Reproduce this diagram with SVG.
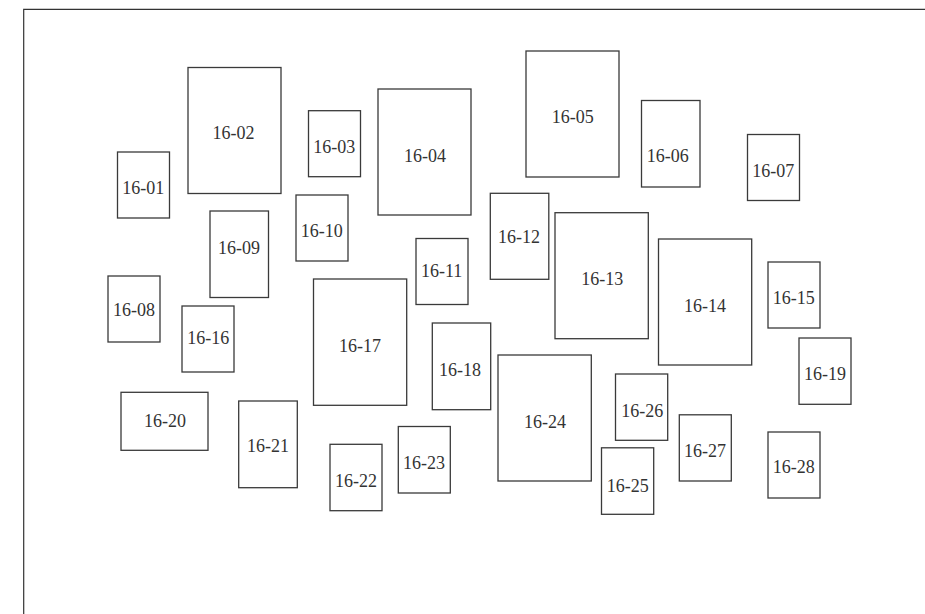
<svg xmlns="http://www.w3.org/2000/svg" width="925" height="614" viewBox="0 0 925 614">
<style>
.n rect{fill:#fff;stroke:#3a3a3a;stroke-width:1.3}
.n text{font-family:"Liberation Serif",serif;font-size:18px;fill:#333;text-anchor:middle}
.frame{stroke:#333;stroke-width:1.2;fill:none}
</style>
<rect width="925" height="614" fill="#fff"/>
<polyline class="frame" points="23.7,614 23.7,9.3 925,9.3"/>
<g id="n16-01" class="n"><rect x="117.5" y="152" width="52" height="66"/><text x="143.3" y="194.3">16-01</text></g>
<g id="n16-02" class="n"><rect x="188" y="67.5" width="93" height="126"/><text x="233.5" y="139">16-02</text></g>
<g id="n16-03" class="n"><rect x="308.5" y="110.7" width="52" height="66"/><text x="334.3" y="153.3">16-03</text></g>
<g id="n16-04" class="n"><rect x="378" y="89" width="93" height="126"/><text x="425" y="162">16-04</text></g>
<g id="n16-05" class="n"><rect x="526" y="51" width="93" height="126"/><text x="572.7" y="123.3">16-05</text></g>
<g id="n16-06" class="n"><rect x="641.5" y="100.5" width="58.5" height="86.5"/><text x="667.7" y="162.3">16-06</text></g>
<g id="n16-07" class="n"><rect x="747.5" y="134.5" width="52" height="66"/><text x="773.3" y="177.3">16-07</text></g>
<g id="n16-08" class="n"><rect x="108" y="276" width="52" height="66"/><text x="134" y="316">16-08</text></g>
<g id="n16-09" class="n"><rect x="210" y="211" width="58.5" height="86.5"/><text x="239" y="254">16-09</text></g>
<g id="n16-10" class="n"><rect x="296" y="195" width="52" height="66"/><text x="321.7" y="236.7">16-10</text></g>
<g id="n16-11" class="n"><rect x="416" y="238.5" width="52" height="66"/><text x="441.7" y="276.7">16-11</text></g>
<g id="n16-12" class="n"><rect x="490.3" y="193.3" width="58.5" height="86"/><text x="519" y="242.7">16-12</text></g>
<g id="n16-13" class="n"><rect x="555" y="212.7" width="93.3" height="126"/><text x="602.3" y="285">16-13</text></g>
<g id="n16-14" class="n"><rect x="658.5" y="239" width="93.2" height="126"/><text x="705" y="311.7">16-14</text></g>
<g id="n16-15" class="n"><rect x="768" y="262" width="52" height="66"/><text x="793.7" y="304">16-15</text></g>
<g id="n16-16" class="n"><rect x="182" y="306" width="52" height="66"/><text x="208.3" y="344">16-16</text></g>
<g id="n16-17" class="n"><rect x="313.5" y="279" width="93.2" height="126.3"/><text x="360" y="352.3">16-17</text></g>
<g id="n16-18" class="n"><rect x="432.3" y="323" width="58.4" height="86.7"/><text x="460" y="376">16-18</text></g>
<g id="n16-19" class="n"><rect x="799" y="338" width="52" height="66.3"/><text x="825" y="380">16-19</text></g>
<g id="n16-20" class="n"><rect x="121" y="392.3" width="87" height="58"/><text x="165" y="426.7">16-20</text></g>
<g id="n16-21" class="n"><rect x="238.7" y="401" width="58.6" height="86.7"/><text x="268" y="452.3">16-21</text></g>
<g id="n16-22" class="n"><rect x="330" y="444.3" width="52" height="66.4"/><text x="356" y="487.3">16-22</text></g>
<g id="n16-23" class="n"><rect x="398.3" y="426.5" width="52" height="66.5"/><text x="424" y="469.3">16-23</text></g>
<g id="n16-24" class="n"><rect x="498" y="355" width="93.3" height="126"/><text x="545" y="428.3">16-24</text></g>
<g id="n16-25" class="n"><rect x="601.5" y="447.8" width="52.2" height="66.5"/><text x="627.7" y="491.7">16-25</text></g>
<g id="n16-26" class="n"><rect x="615.5" y="374" width="52.2" height="66.3"/><text x="642.3" y="416.7">16-26</text></g>
<g id="n16-27" class="n"><rect x="679.3" y="414.8" width="52" height="66.2"/><text x="705" y="457.3">16-27</text></g>
<g id="n16-28" class="n"><rect x="768" y="432" width="52" height="66"/><text x="793.7" y="472.7">16-28</text></g>
<g id="connectors"></g>
</svg>
